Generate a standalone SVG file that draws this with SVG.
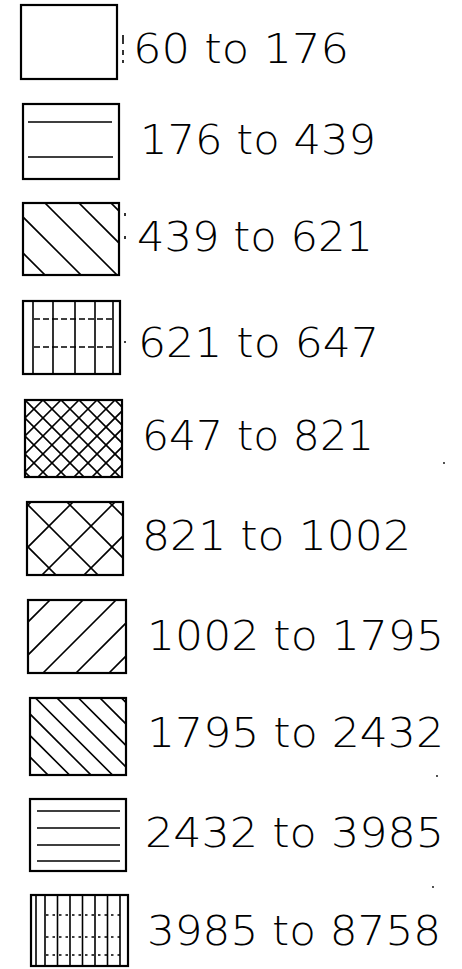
<svg xmlns="http://www.w3.org/2000/svg" width="462" height="969" viewBox="0 0 462 969">
<style>
.box{fill:none;stroke:#000;stroke-width:2.2}
.h{stroke:#000;stroke-width:1.6;fill:none}
.d{stroke:#000;stroke-width:1.6;stroke-dasharray:6 3;fill:none}
.p{stroke:#000;stroke-width:1.6;stroke-dasharray:2.5 4;fill:none}
.lbl{font-family:"DejaVu Sans","Liberation Sans",sans-serif;font-size:41px;font-weight:200;fill:#000}
.dot{fill:#000}
</style>
<defs>
<clipPath id="c3"><rect x="23" y="203" width="96" height="72"/></clipPath>
<clipPath id="c5"><rect x="25" y="400" width="97" height="77"/></clipPath>
<clipPath id="c6"><rect x="27" y="502" width="96" height="73"/></clipPath>
<clipPath id="c7"><rect x="28" y="600" width="98" height="73"/></clipPath>
<clipPath id="c8"><rect x="30" y="698" width="96" height="77"/></clipPath>
</defs>
<rect width="462" height="969" fill="#fff"/>

<g id="item1">
<rect class="box" x="21" y="5" width="96" height="74"/>
<path class="h" d="M123 35v9M123 50v5M123 60v3"/>
<text class="lbl" x="133" y="63" textLength="216" lengthAdjust="spacingAndGlyphs">60 to 176</text>
</g>

<g id="item2">
<rect class="box" x="23" y="104" width="96" height="75"/>
<path class="h" d="M28 122H112M28 157H113"/>
<text class="lbl" x="140" y="154" textLength="236" lengthAdjust="spacingAndGlyphs">176 to 439</text>
</g>

<g id="item3">
<rect class="box" x="23" y="203" width="96" height="72"/>
<g clip-path="url(#c3)">
<path class="h" d="M-37 193L65 295M-1 193L101 295M35 193L137 295M69 193L171 295M101 193L203 295"/>
</g>
<path class="h" d="M125 213v3M125 236v3"/>
<text class="lbl" x="137" y="251" textLength="236" lengthAdjust="spacingAndGlyphs">439 to 621</text>
</g>

<g id="item4">
<rect class="box" x="23" y="301" width="97" height="73"/>
<path class="h" d="M33 301V374M53 301V374M75 301V374M95 301V374M113 301V374"/>
<path class="d" d="M34 319H112M34 347H112"/>
<circle class="dot" cx="125" cy="342" r="1"/>
<text class="lbl" x="138" y="357" textLength="241" lengthAdjust="spacingAndGlyphs">621 to 647</text>
</g>

<g id="item5">
<rect class="box" x="25" y="400" width="97" height="77"/>
<g clip-path="url(#c5)">
<path class="h" d="M25 418L43 400M25 436L61 400M25 454L79 400M25 472L97 400M25 490L115 400M25 508L133 400M25 526L151 400M25 544L169 400M25 562L187 400M25 580L205 400"/>
<path class="h" d="M25 382L120 477M25 400L122 497M25 418L122 515M25 436L122 533M25 454L122 551M25 472L122 569M43 400L140 497M61 400L158 497M79 400L176 497M97 400L194 497M115 400L212 497"/>
</g>
<text class="lbl" x="142" y="450" textLength="232" lengthAdjust="spacingAndGlyphs">647 to 821</text>
</g>

<g id="item6">
<rect class="box" x="27" y="502" width="96" height="73"/>
<g clip-path="url(#c6)">
<path class="h" d="M17 516L41 492M17 558L83 492M17 600L125 492M37 622L145 514M79 622L145 556"/>
<path class="h" d="M17 494L145 622M59 494L187 622M101 494L229 622M17 536L145 664M17 578L145 706"/>
</g>
<text class="lbl" x="142" y="550" textLength="269" lengthAdjust="spacingAndGlyphs">821 to 1002</text>
</g>

<g id="item7">
<rect class="box" x="28" y="600" width="98" height="73"/>
<g clip-path="url(#c7)">
<path class="h" d="M60 590L-23 673M93 590L10 673M126 590L43 673M159 590L76 673M192 590L109 673"/>
</g>
<text class="lbl" x="147" y="650" textLength="297" lengthAdjust="spacingAndGlyphs">1002 to 1795</text>
</g>

<g id="item8">
<rect class="box" x="30" y="698" width="96" height="77"/>
<g clip-path="url(#c8)">
<path class="h" d="M-39 688L58 785M-17.5 688L79.5 785M4 688L101 785M25.5 688L122.5 785M47 688L144 785M68.5 688L165.5 785M90 688L187 785M111.5 688L208.5 785"/>
</g>
<text class="lbl" x="147" y="747" textLength="297" lengthAdjust="spacingAndGlyphs">1795 to 2432</text>
</g>

<g id="item9">
<rect class="box" x="30" y="799" width="96" height="72"/>
<path class="h" d="M37 811H120M37 828H120M37 845H120M37 861H120"/>
<text class="lbl" x="145" y="847" textLength="299" lengthAdjust="spacingAndGlyphs">2432 to 3985</text>
</g>

<g id="item10">
<rect class="box" x="31" y="895" width="97" height="71"/>
<path class="h" d="M36 895V966M45 895V966M57.5 895V966M70 895V966M82.5 895V966M95 895V966M107.5 895V966M120 895V966"/>
<path class="p" d="M46 915H120M46 937H120M46 955H120"/>
<text class="lbl" x="147" y="945" textLength="294" lengthAdjust="spacingAndGlyphs">3985 to 8758</text>
</g>

<g id="specks">
<circle class="dot" cx="444" cy="463" r="0.9"/>
<circle class="dot" cx="437" cy="776" r="0.9"/>
<circle class="dot" cx="433" cy="887" r="0.9"/>
</g>
</svg>
